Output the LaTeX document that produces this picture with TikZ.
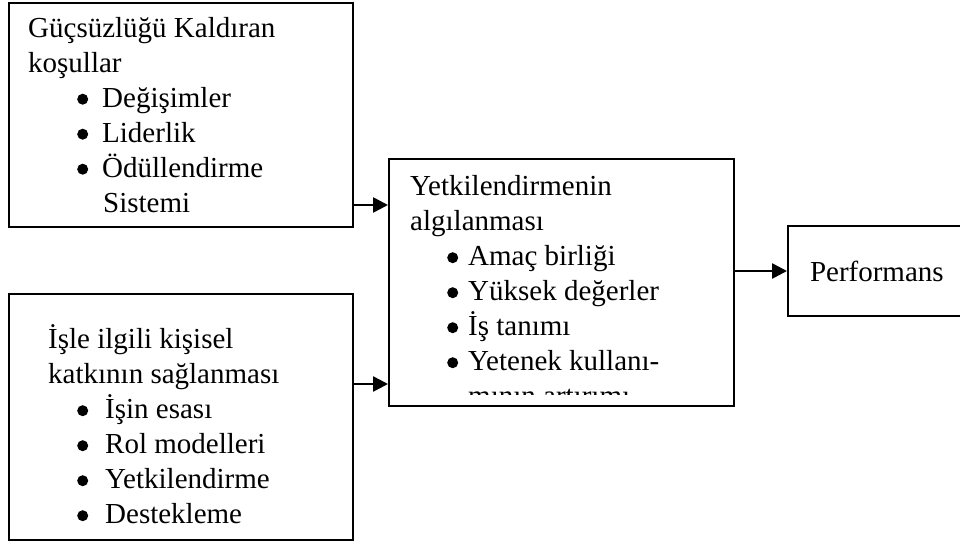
\documentclass[tikz,border=0pt]{standalone}
\usepackage{fontspec}
\setmainfont{Liberation Serif}
\usetikzlibrary{positioning, arrows.meta}
\newcommand{\yazi}{\fontsize{29}{35}\selectfont}
\newcommand{\madde}[1][25pt]{\makebox[#1][l]{\tikz[x=1cm, y=1cm, baseline={(0,-8pt)}] \fill (0,0) circle (5.5pt);}}
\tikzset{% 
	>={Triangle[length = 15pt, width = 15pt]},
	ok/.style = {->, line width = 2.6pt},
	kutu/.style = {name = #1, rectangle, draw, line width = 2pt, inner sep = 0pt, anchor = north west},
	metin/.style = {name = #1, inner sep = 0pt, anchor = north west, align = left, font = \yazi}
}
\begin{document}
\begin{tikzpicture}[x=1pt, y=-1pt]
			\useasboundingbox (0,0) rectangle (960,541);
			\node [kutu = guc, minimum width = 344pt, minimum height = 224pt] at (8,2) {};
			\node [kutu = isle, minimum width = 344pt, minimum height = 246pt] at (8,293) {};
			\node [kutu = yet, minimum width = 345pt, minimum height = 247pt] at (388,158) {};
			\node [kutu = perf, minimum width = 180pt, minimum height = 90pt, text width = 150pt, inner xsep = 22pt, align = left, anchor = west, font = \yazi] at (787,271) {Performans};
			\node [metin = gucm] at (28,12.5) {\strut Güçsüzlüğü Kaldıran\\ koşullar\\ \hspace*{49pt}\madde Değişimler\\ \hspace*{49pt}\madde Liderlik\\ \hspace*{49pt}\madde Ödüllendirme\\ \hspace*{75pt}Sistemi};
			\node [metin = islem] at (48,324) {\strut İşle ilgili kişisel\\ katkının sağlanması\\ \hspace*{29pt}\madde[28pt]İşin esası\\ \hspace*{29pt}\madde[28pt]Rol modelleri\\ \hspace*{29pt}\madde[28pt]Yetkilendirme\\ \hspace*{29pt}\madde[28pt]Destekleme};
			\begin{scope}
			\clip (388,158) rectangle (733,394);
			\node [metin = yetm] at (410,171) {\strut Yetkilendirmenin\\ algılanması\\ \hspace*{37pt}\madde[21pt]Amaç birliği\\ \hspace*{37pt}\madde[21pt]Yüksek değerler\\ \hspace*{37pt}\madde[21pt]İş tanımı\\ \hspace*{37pt}\madde[21pt]Yetenek kullanı-\\ \hspace*{58pt}mının artırımı};
			\end{scope}
			\coordinate (a1) at ([yshift = 23pt]guc.south east);
			\coordinate (a2) at ([yshift = 23pt]yet.south west);
			\path (a1) edge [ok] (a1 -| yet.west);
			\path (isle.east |- a2) edge [ok] (a2);
			\path (yet.east |- perf.west) edge [ok] (perf.west);
			\end{tikzpicture}
\end{document}
